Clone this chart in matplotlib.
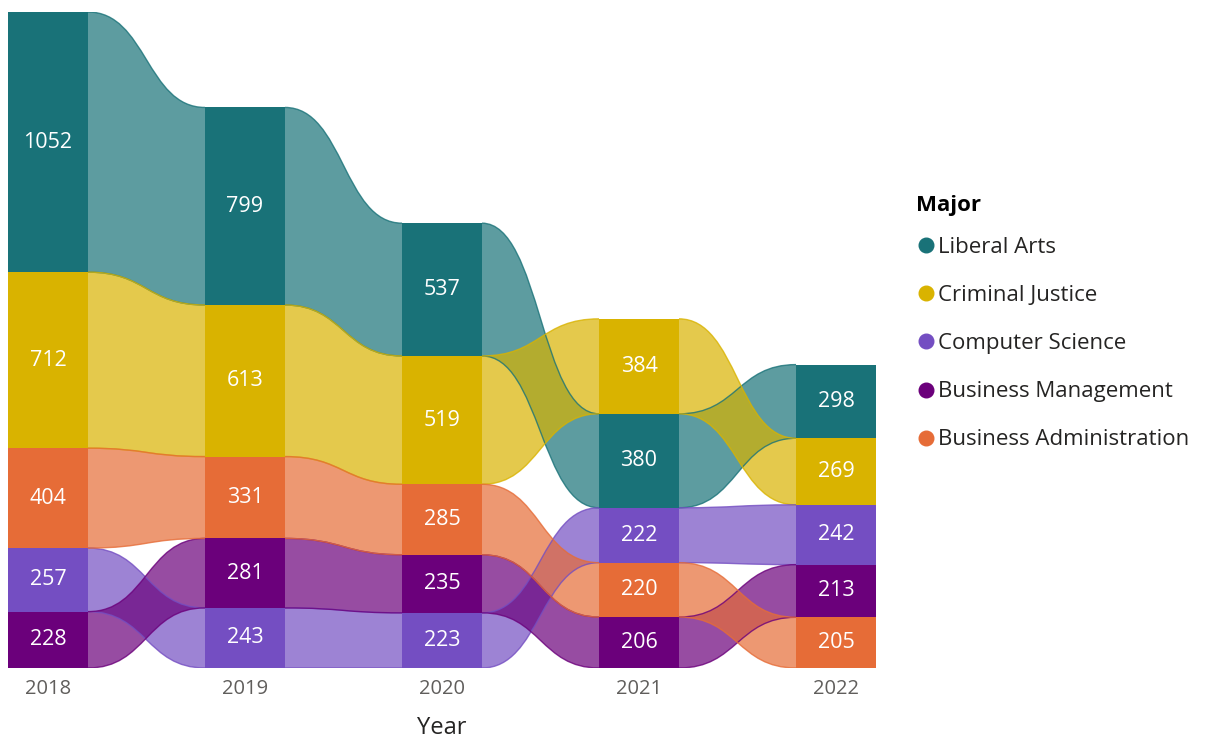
import matplotlib.pyplot as plt
from matplotlib.path import Path
from matplotlib.patches import PathPatch
from matplotlib.lines import Line2D
import numpy as np

years = ['2018', '2019', '2020', '2021', '2022']
majors = ['Liberal Arts', 'Criminal Justice', 'Computer Science',
          'Business Management', 'Business Administration']
liberal_arts = [1052, 799, 537, 380, 298]
criminal_justice = [712, 613, 519, 384, 269]
computer_science = [257, 243, 223, 222, 242]
business_mgmt = [228, 281, 235, 206, 213]
business_admin = [404, 331, 285, 220, 205]
colors = ['#197278', '#D9B300', '#744EC2', '#6B007B', '#E66C37']

vals = np.array([liberal_arts, criminal_justice, computer_science,
                 business_mgmt, business_admin], dtype=float)
n_s, n_y = vals.shape

# stack each year: largest on top
bottoms = np.zeros_like(vals)
for j in range(n_y):
    order = np.argsort(vals[:, j])  # ascending -> smallest at bottom
    acc = 0
    for s in order:
        bottoms[s, j] = acc
        acc += vals[s, j]
tops = bottoms + vals

fig = plt.figure(figsize=(12.17, 7.40), dpi=100)
W, H = 1217, 740
ax = fig.add_axes([8 / W, (740 - 668) / H, 868 / W, 656 / H])

hw = 0.203  # half column width
x = np.arange(n_y)

# ribbons
for s in range(n_s):
    for j in range(n_y - 1):
        x0 = j + hw
        x1 = j + 1 - hw
        xm = (x0 + x1) / 2
        t0, t1 = tops[s, j], tops[s, j + 1]
        b0, b1 = bottoms[s, j], bottoms[s, j + 1]
        verts = [(x0, t0), (xm, t0), (xm, t1), (x1, t1),
                 (x1, b1), (xm, b1), (xm, b0), (x0, b0), (x0, t0)]
        codes = [Path.MOVETO, Path.CURVE4, Path.CURVE4, Path.CURVE4,
                 Path.LINETO, Path.CURVE4, Path.CURVE4, Path.CURVE4,
                 Path.CLOSEPOLY]
        ax.add_patch(PathPatch(Path(verts, codes), facecolor=colors[s],
                               alpha=0.7, edgecolor='none', zorder=1))
        # edge lines
        for (ya, yb) in [(t0, t1), (b0, b1)]:
            p = Path([(x0, ya), (xm, ya), (xm, yb), (x1, yb)],
                     [Path.MOVETO, Path.CURVE4, Path.CURVE4, Path.CURVE4])
            ax.add_patch(PathPatch(p, facecolor='none', edgecolor=colors[s],
                                   lw=1, alpha=0.8, zorder=2))

# columns
for s in range(n_s):
    ax.bar(x, vals[s], width=2 * hw, bottom=bottoms[s], color=colors[s],
           linewidth=0, zorder=3)
    for j in range(n_y):
        ax.text(j, bottoms[s, j] + vals[s, j] / 2, f'{int(vals[s, j])}',
                ha='center', va='center', color='white', fontsize=15.5,
                family='Open Sans', zorder=4)

ax.set_xlim(-hw, n_y - 1 + hw)
ax.set_ylim(0, tops[:, 0].max())
ax.set_xticks(x)
ax.set_xticklabels(years, fontsize=14.5, color='#605E5C', family='Open Sans')
ax.tick_params(axis='x', length=0, pad=8)
ax.set_yticks([])
for sp in ax.spines.values():
    sp.set_visible(False)
ax.set_xlabel('Year', fontsize=17, color='#252423', family='Open Sans',
              labelpad=12)

# legend
fig.text(916 / W, 1 - 205 / H, 'Major', ha='left', va='center',
         fontsize=16, weight='bold', family='Open Sans', color='#000000')
handles = [Line2D([], [], marker='o', linestyle='none', markersize=10.5,
                  markerfacecolor=c, markeredgecolor=c) for c in colors]
leg = fig.legend(handles, majors, loc='upper left',
                 bbox_to_anchor=(917 / W, 1 - 237 / H), frameon=False,
                 prop={'family': 'Open Sans', 'size': 16},
                 labelspacing=1.22, handletextpad=0.15,
                 handlelength=0.8, borderaxespad=0, borderpad=0)
for t in leg.get_texts():
    t.set_color('#252423')

fig.savefig('out.png', dpi=100)
